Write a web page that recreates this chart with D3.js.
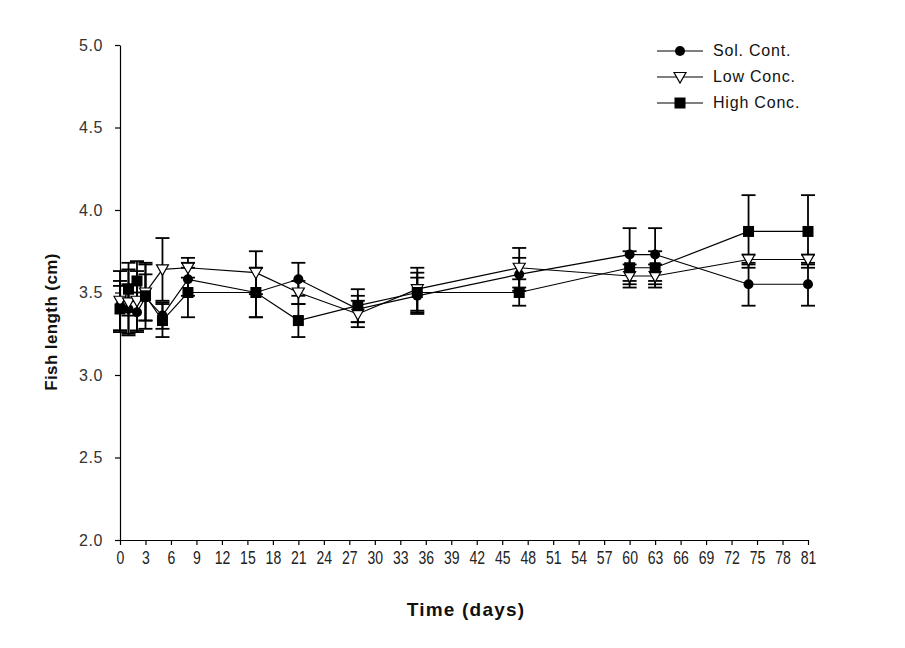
<!DOCTYPE html>
<html>
<head>
<meta charset="utf-8">
<script src="https://cdn.jsdelivr.net/npm/d3@7"></script>
<style>
  html, body { margin: 0; padding: 0; background: #fff; }
  svg { display: block; }
</style>
</head>
<body>
<svg id="chart" width="905" height="648"></svg>
<script>
// ---- data ----
const days = [0, 1, 2, 3, 5, 8, 16, 21, 28, 35, 47, 60, 63, 74, 81];
const solCont     = [3.42, 3.40, 3.38, 3.47, 3.36, 3.58, 3.50, 3.58, 3.40, 3.48, 3.61, 3.73, 3.73, 3.55, 3.55];
const solContErr  = [0.15, 0.15, 0.12, 0.14, 0.08, 0.10, 0.15, 0.10, 0.08, 0.11, 0.10, 0.16, 0.16, 0.13, 0.13];
const lowConc     = [3.45, 3.44, 3.45, 3.50, 3.64, 3.65, 3.62, 3.50, 3.37, 3.52, 3.65, 3.60, 3.60, 3.70, 3.70];
const lowConcErr  = [0.18, 0.20, 0.18, 0.17, 0.19, 0.06, 0.13, 0.07, 0.08, 0.13, 0.12, 0.07, 0.07, 0.03, 0.03];
const highConc    = [3.40, 3.52, 3.57, 3.48, 3.33, 3.50, 3.50, 3.33, 3.42, 3.50, 3.50, 3.65, 3.65, 3.87, 3.87];
const highConcErr = [0.14, 0.16, 0.12, 0.20, 0.10, 0.15, 0.15, 0.10, 0.10, 0.12, 0.08, 0.10, 0.10, 0.22, 0.22];
const xTicks = d3.range(0, 82, 3);
const yTicks = [2.0, 2.5, 3.0, 3.5, 4.0, 4.5, 5.0];
const seriesNames = ["Sol.  Cont.", "Low Conc.", "High Conc."];
const xTitle = "Time (days)";
const yTitle = "Fish  length  (cm)";

// ---- setup ----
const svg = d3.select("#chart");
const x = d3.scaleLinear().domain([0, 81]).range([120, 808]);
const y = d3.scaleLinear().domain([2, 5]).range([540, 45]);

const series = [
  { name: seriesNames[0], values: solCont, err: solContErr, shape: "circle" },
  { name: seriesNames[1], values: lowConc, err: lowConcErr, shape: "triangle" },
  { name: seriesNames[2], values: highConc, err: highConcErr, shape: "square" }
];

// axes
const xAxis = d3.axisBottom(x).tickValues(xTicks).tickSize(5).tickSizeOuter(0).tickPadding(6)
  .tickFormat(d3.format("d"));
const yAxis = d3.axisLeft(y).tickValues(yTicks).tickSize(5).tickSizeOuter(0).tickPadding(12)
  .tickFormat(d3.format(".1f"));

const gx = svg.append("g").attr("transform", "translate(0,540)").call(xAxis);
gx.selectAll("text").attr("font-family", "Arial, 'Liberation Sans', sans-serif")
  .attr("font-size", 18).attr("fill", "#222").attr("transform", "scale(0.78,1)");
const gy = svg.append("g").attr("transform", "translate(120,0)").call(yAxis);
gy.selectAll("text").attr("font-family", "Arial, 'Liberation Sans', sans-serif")
  .attr("font-size", 16).attr("fill", "#333").attr("letter-spacing", 0.6);
svg.selectAll(".domain, .tick line").attr("stroke", "#000").attr("stroke-width", 1.2);

// axis titles
svg.append("text").attr("x", 466).attr("y", 616).attr("text-anchor", "middle")
  .attr("font-family", "Arial, 'Liberation Sans', sans-serif").attr("font-weight", "bold")
  .attr("font-size", 19).attr("letter-spacing", 1.2).attr("fill", "#111").text(xTitle);
svg.append("text").attr("transform", "translate(57,322) rotate(-90)").attr("text-anchor", "middle")
  .attr("font-family", "Arial, 'Liberation Sans', sans-serif").attr("font-weight", "bold")
  .attr("font-size", 17).attr("letter-spacing", 0.4).attr("fill", "#111").text(yTitle);

const line = d3.line().x(d => x(d[0])).y(d => y(d[1]));

// lines
series.forEach(s => {
  svg.append("path").datum(days.map((d, i) => [d, s.values[i]]))
    .attr("d", line).attr("fill", "none").attr("stroke", "#000").attr("stroke-width", 1.2);
});

// error bars
const cap = 7;
series.forEach(s => {
  const g = svg.append("g").attr("stroke", "#000").attr("stroke-width", 1.8);
  days.forEach((d, i) => {
    const cx = x(d), top = y(s.values[i] + s.err[i]), bot = y(s.values[i] - s.err[i]);
    g.append("line").attr("x1", cx).attr("x2", cx).attr("y1", top).attr("y2", bot);
    g.append("line").attr("x1", cx - cap).attr("x2", cx + cap).attr("y1", top).attr("y2", top);
    g.append("line").attr("x1", cx - cap).attr("x2", cx + cap).attr("y1", bot).attr("y2", bot);
  });
});

function drawMarker(g, shape, cx, cy) {
  if (shape === "circle") {
    g.append("circle").attr("cx", cx).attr("cy", cy).attr("r", 5).attr("fill", "#000");
  } else if (shape === "square") {
    g.append("rect").attr("x", cx - 5.5).attr("y", cy - 5.5).attr("width", 11).attr("height", 11).attr("fill", "#000");
  } else {
    g.append("path").attr("d", `M${cx - 6},${cy - 4.5} L${cx + 6},${cy - 4.5} L${cx},${cy + 6} Z`)
      .attr("fill", "#fff").attr("stroke", "#000").attr("stroke-width", 1.2);
  }
}

// markers
series.forEach(s => {
  const g = svg.append("g");
  days.forEach((d, i) => drawMarker(g, s.shape, x(d), y(s.values[i])));
});

// legend
const legY = [51, 77, 103];
series.forEach((s, i) => {
  const g = svg.append("g");
  g.append("line").attr("x1", 657).attr("x2", 703).attr("y1", legY[i]).attr("y2", legY[i])
    .attr("stroke", "#000").attr("stroke-width", 1.2);
  drawMarker(g, s.shape, 680, legY[i]);
  g.append("text").attr("x", 713).attr("y", legY[i] + 5)
    .attr("font-family", "Arial, 'Liberation Sans', sans-serif").attr("font-size", 16)
    .attr("letter-spacing", 0.8).attr("fill", "#111").text(s.name);
});
</script>
</body>
</html>
